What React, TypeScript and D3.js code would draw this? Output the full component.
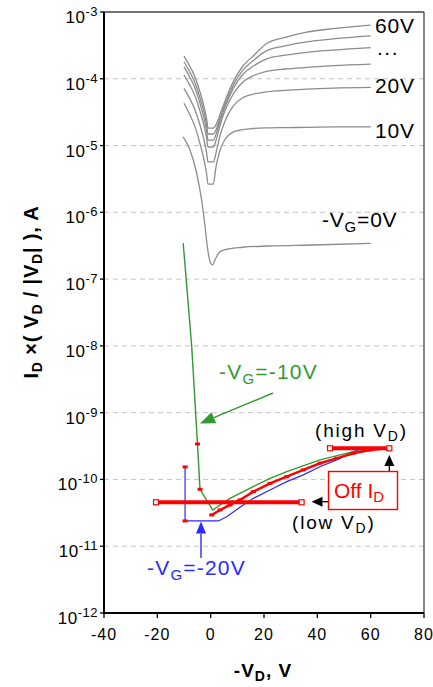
import React from 'react';
import * as d3 from 'd3';

// -V_D grid shared by the -V_G = 10..60 V curves
const VD_GRID = [-10, -8, -6, -4, -2.5, -1.5, -1, 1, 2, 3.5, 5.5, 8.5, 12, 16, 21, 28, 36, 46, 60];
const ID_60V = [2.19e-4, 1.59e-4, 1.09e-4, 6.34e-5, 3.85e-5, 2.47e-5, 1.83e-5, 1.83e-5, 2.04e-5, 2.9e-5, 4.78e-5, 9.06e-5, 1.54e-4, 2.2e-4, 3.37e-4, 4.17e-4, 4.98e-4, 5.64e-4, 6.38e-4];
const ID_50V = [1.8e-4, 1.3e-4, 8.97e-5, 5.18e-5, 3.15e-5, 2.01e-5, 1.49e-5, 1.49e-5, 1.71e-5, 2.56e-5, 4.25e-5, 8.07e-5, 1.34e-4, 1.88e-4, 2.64e-4, 3.12e-4, 3.57e-4, 3.95e-4, 4.38e-4];
const ID_40V = [1.52e-4, 1.09e-4, 7.48e-5, 4.29e-5, 2.58e-5, 1.64e-5, 1.21e-5, 1.21e-5, 1.47e-5, 2.29e-5, 3.93e-5, 7.19e-5, 1.16e-4, 1.55e-4, 1.99e-4, 2.26e-4, 2.49e-4, 2.69e-4, 2.92e-4];
const ID_30V = [1.14e-4, 8.26e-5, 5.69e-5, 3.29e-5, 2.0e-5, 1.28e-5, 9.51e-6, 9.51e-6, 1.19e-5, 2.0e-5, 3.44e-5, 5.94e-5, 8.87e-5, 1.11e-4, 1.29e-4, 1.4e-4, 1.48e-4, 1.57e-4, 1.66e-4];
const ID_20V = [7.19e-5, 5.18e-5, 3.53e-5, 2.02e-5, 1.22e-5, 7.69e-6, 5.68e-6, 5.68e-6, 7.73e-6, 1.4e-5, 2.4e-5, 3.92e-5, 5.19e-5, 5.9e-5, 6.38e-5, 6.71e-5, 6.98e-5, 7.26e-5, 7.45e-5];
const ID_10V = [4.3e-5, 2.99e-5, 1.97e-5, 1.07e-5, 6.12e-6, 3.71e-6, 2.65e-6, 2.65e-6, 4.8e-6, 8.51e-6, 1.26e-5, 1.6e-5, 1.73e-5, 1.8e-5, 1.84e-5, 1.86e-5, 1.87e-5, 1.9e-5, 1.91e-5];

// -V_G = 0 V
const VD_0V = [-10.3, -7.75, -5.25, -3.4, -2.1, -1.25, 0, 0.75, 1.6, 3.5, 6, 12, 22, 38, 60];
const ID_0V = [1.35e-5, 8.57e-6, 3.85e-6, 1.53e-6, 6.1e-7, 3.05e-7, 1.73e-7, 1.63e-7, 1.93e-7, 2.58e-7, 2.8e-7, 3.0e-7, 3.13e-7, 3.24e-7, 3.44e-7];

// -V_G = -10 V (green)
const VD_M10 = [-10.3, -7.1, -4.95, -4.0, 0.75, 7.25, 16, 22.25, 28.5, 41, 53.5, 66];
const ID_M10 = [3.44e-7, 9.72e-9, 3.4e-10, 7.13e-11, 3.49e-11, 5.22e-11, 7.8e-11, 1.04e-10, 1.31e-10, 1.96e-10, 2.61e-10, 2.93e-10];
const MARK_M10 = [2, 3];

// -V_G = -20 V (blue)
const VD_M20 = [-9.6, -9.6, 2.9, 6, 11, 16, 22.25, 28.5, 34.75, 41, 47.25, 53.5, 56];
const ID_M20 = [1.54e-10, 2.39e-11, 2.39e-11, 2.77e-11, 3.83e-11, 5.22e-11, 6.95e-11, 9.27e-11, 1.17e-10, 1.55e-10, 1.96e-10, 2.61e-10, 2.83e-10];
const MARK_M20 = [0, 1];

// red series
const VD_RED = [0.4, 3.5, 7.25, 11, 16, 22.25, 28.5, 34.75, 41, 47.25, 53.5, 59.75, 66];
const ID_RED = [2.94e-11, 3.49e-11, 4.15e-11, 4.93e-11, 6.56e-11, 8.75e-11, 1.1e-10, 1.39e-10, 1.75e-10, 2.07e-10, 2.47e-10, 2.76e-10, 2.93e-10];

// Off I_D levels
const OFF_LOW_X = [-20.5, 34.1];
const OFF_LOW_I = 4.55e-11;
const OFF_HIGH_X = [44.75, 67];
const OFF_HIGH_I = 2.93e-10;

const X_TICKS = [-40, -20, 0, 20, 40, 60, 80];
const Y_EXPONENTS = [-3, -4, -5, -6, -7, -8, -9, -10, -11, -12];

const FONT = '"Liberation Sans", Arial, sans-serif';
const GRAY = '#8c8c8c';
const GREEN = '#2f9a2f';
const BLUE = '#2a2aff';
const RED = '#ff0000';

function head(x1: number, y1: number, x2: number, y2: number, len: number, wid: number) {
  const dx = x2 - x1, dy = y2 - y1;
  const L = Math.hypot(dx, dy);
  const ux = dx / L, uy = dy / L;
  const bx = x2 - ux * len, by = y2 - uy * len;
  const px = -uy * wid / 2, py = ux * wid / 2;
  return { bx, by, pts: `${x2},${y2} ${bx + px},${by + py} ${bx - px},${by - py}` };
}

function Arrow({ x1, y1, x2, y2, color, len, wid, sw }: any) {
  const h = head(x1, y1, x2, y2, len, wid);
  return (
    <g>
      <line x1={x1} y1={y1} x2={h.bx} y2={h.by} stroke={color} strokeWidth={sw} />
      <polygon points={h.pts} fill={color} />
    </g>
  );
}

export default function App() {
  const left = 104, right = 424, top = 12, bottom = 613;
  const x = d3.scaleLinear().domain([-40, 80]).range([left, right]);
  const y = d3.scaleLog().domain([1e-12, 1e-3]).range([bottom, top]);

  const smooth = d3.line<[number, number]>().x(d => x(d[0])).y(d => y(d[1])).curve(d3.curveMonotoneX);
  const straight = d3.line<[number, number]>().x(d => x(d[0])).y(d => y(d[1]));

  const zip = (xs: number[], ys: number[]) => xs.map((v, i) => [v, ys[i]] as [number, number]);
  const grayCurves = [ID_60V, ID_50V, ID_40V, ID_30V, ID_20V, ID_10V].map(ids => zip(VD_GRID, ids));
  const green = zip(VD_M10, ID_M10);
  const blue = zip(VD_M20, ID_M20);
  const red = zip(VD_RED, ID_RED);

  const redMark = (px: number, py: number, key: string) => (
    <rect key={key} x={px - 2.5} y={py - 1.5} width={5} height={3} fill={RED} />
  );
  const hollow = (px: number, py: number, key: string) => (
    <rect key={key} x={px - 2.5} y={py - 2.5} width={5} height={5} fill="#fff" stroke={RED} strokeWidth={1.2} />
  );

  return (
    <svg width={433} height={687} style={{ position: 'absolute', left: 0, top: 0, background: '#fff' }} fontFamily={FONT}>
      <rect x={0} y={0} width={433} height={687} fill="#fff" />
      {/* grid */}
      {Y_EXPONENTS.filter(e => e !== -3 && e !== -12).map(e => (
        <line key={e} x1={left} x2={right} y1={y(Math.pow(10, e))} y2={y(Math.pow(10, e))}
          stroke="#c4c4c4" strokeWidth={1} strokeDasharray="5,4" />
      ))}

      {/* gray curves */}
      {grayCurves.map((c, i) => (
        <path key={i} d={smooth(c) || ''} fill="none" stroke={GRAY} strokeWidth={1.3} />
      ))}
      <path d={smooth(zip(VD_0V, ID_0V)) || ''} fill="none" stroke={GRAY} strokeWidth={1.3} />

      {/* blue */}
      <path d={straight(blue) || ''} fill="none" stroke={BLUE} strokeWidth={1.2} />
      {/* green */}
      <path d={straight(green) || ''} fill="none" stroke={GREEN} strokeWidth={1.4} />
      {/* red series */}
      <path d={straight(red) || ''} fill="none" stroke={RED} strokeWidth={2.5} />
      {red.map((d, i) => redMark(x(d[0]), y(d[1]), 'r' + i))}
      {MARK_M10.map(i => redMark(x(VD_M10[i]), y(ID_M10[i]), 'g' + i))}
      {MARK_M20.map(i => redMark(x(VD_M20[i]), y(ID_M20[i]), 'b' + i))}

      {/* Off I_D levels */}
      <line x1={x(OFF_LOW_X[0])} x2={x(OFF_LOW_X[1])} y1={y(OFF_LOW_I)} y2={y(OFF_LOW_I)} stroke={RED} strokeWidth={4} />
      <line x1={x(OFF_HIGH_X[0])} x2={x(OFF_HIGH_X[1])} y1={y(OFF_HIGH_I)} y2={y(OFF_HIGH_I)} stroke={RED} strokeWidth={4} />
      {OFF_LOW_X.map((v, i) => hollow(x(v), y(OFF_LOW_I), 'lo' + i))}
      {OFF_HIGH_X.map((v, i) => hollow(x(v), y(OFF_HIGH_I), 'hi' + i))}

      {/* annotations */}
      <Arrow x1={273} y1={393} x2={200} y2={423.5} color={GREEN} len={15} wid={12} sw={1.4} />
      <Arrow x1={201} y1={558} x2={201} y2={521.5} color={BLUE} len={12} wid={10} sw={1.4} />
      <Arrow x1={329} y1={501.7} x2={311.5} y2={501.7} color="#000" len={11} wid={10} sw={1.3} />
      <Arrow x1={x(OFF_HIGH_X[1])} y1={472} x2={x(OFF_HIGH_X[1])} y2={455} color="#000" len={11} wid={10} sw={1.3} />

      <rect x={328.5} y={471.5} width={69} height={38} fill="#fff" stroke={RED} strokeWidth={1.4} />
      <text x={334} y={498} fontSize={21} fill={RED}>Off I<tspan fontSize={15} dy={4}>D</tspan></text>

      <text x={315} y={437} fontSize={19} letterSpacing={1.8}>(high V<tspan fontSize={14} dy={4}>D</tspan><tspan dy={-4}>)</tspan></text>
      <text x={292} y={529} fontSize={19} letterSpacing={1.8}>(low V<tspan fontSize={14} dy={4}>D</tspan><tspan dy={-4}>)</tspan></text>

      <text x={219} y={379} fontSize={21} fill={GREEN} letterSpacing={1.2}>-V<tspan fontSize={15} dy={5}>G</tspan><tspan dy={-5}>=-10V</tspan></text>
      <text x={147} y={575} fontSize={21} fill={BLUE} letterSpacing={1.2}>-V<tspan fontSize={15} dy={5}>G</tspan><tspan dy={-5}>=-20V</tspan></text>

      <text x={375} y={33} fontSize={21} letterSpacing={0.8}>60V</text>
      <text x={377} y={55} fontSize={21} letterSpacing={1.5}>...</text>
      <text x={375} y={93} fontSize={21} letterSpacing={0.8}>20V</text>
      <text x={375} y={138} fontSize={21} letterSpacing={0.8}>10V</text>
      <text x={322} y={227} fontSize={21} letterSpacing={0.8}>-V<tspan fontSize={15} dy={5}>G</tspan><tspan dy={-5}>=0V</tspan></text>

      {/* frame */}
      <line x1={left} x2={right} y1={top} y2={top} stroke="#444" strokeWidth={1.3} />
      <line x1={right} x2={right} y1={top} y2={bottom} stroke="#444" strokeWidth={1.3} />
      <line x1={left} x2={left} y1={top} y2={bottom + 1} stroke="#000" strokeWidth={2} />
      <line x1={left - 1} x2={right} y1={bottom} y2={bottom} stroke="#000" strokeWidth={2} />

      {/* y ticks */}
      {Y_EXPONENTS.map(e => {
        const yy = y(Math.pow(10, e));
        return (
          <g key={e}>
            <line x1={left - 4} x2={left} y1={yy} y2={yy} stroke="#000" strokeWidth={1.3} />
            <text x={98} y={yy + 11} textAnchor="end" fontSize={17} letterSpacing={0.5}>
              10<tspan fontSize={13} dy={-7}>{e}</tspan>
            </text>
          </g>
        );
      })}
      {/* x ticks */}
      {X_TICKS.map(t => (
        <g key={t}>
          <line x1={x(t)} x2={x(t)} y1={bottom} y2={bottom + 5} stroke="#000" strokeWidth={1.3} />
          <text x={x(t)} y={640} textAnchor="middle" fontSize={16} letterSpacing={1}>{t}</text>
        </g>
      ))}

      {/* axis titles */}
      <text x={263} y={677} textAnchor="middle" fontSize={19} fontWeight="bold" letterSpacing={1}>
        -V<tspan fontSize={14} dy={4}>D</tspan><tspan dy={-4}>, V</tspan>
      </text>
      <text transform="translate(38,292) rotate(-90)" textAnchor="middle" fontSize={20} fontWeight="bold" letterSpacing={0.8}>
        I<tspan fontSize={14} dy={4}>D</tspan><tspan dy={-4}> ×( V</tspan><tspan fontSize={14} dy={4}>D</tspan><tspan dy={-4}> / |V</tspan><tspan fontSize={14} dy={4}>D</tspan><tspan dy={-4}>| ), A</tspan>
      </text>
    </svg>
  );
}
